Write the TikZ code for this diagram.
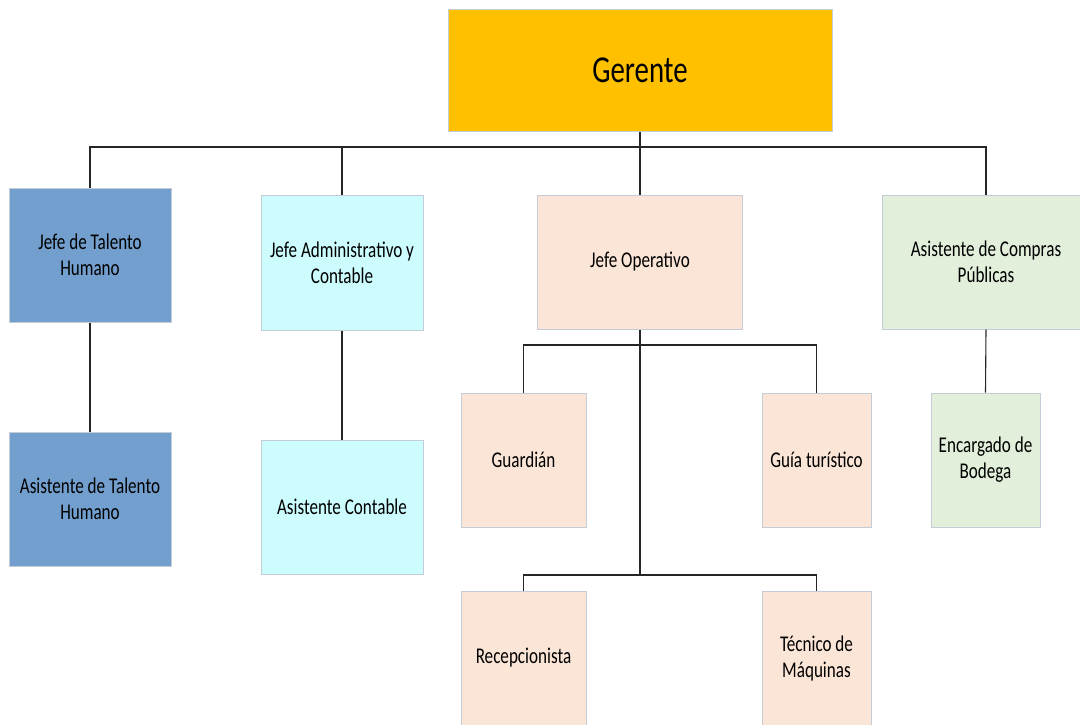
\documentclass[tikz,border=0pt]{standalone}
\usepackage{fontspec}
\setmainfont{Carlito}
\newfontfamily\boxfont[FakeStretch=0.76]{Carlito}
\usepackage{xcolor}
\usepackage{tikz}
\usetikzlibrary{positioning,calc}
\definecolor{Gold}{RGB}{255,192,0}
\definecolor{SteelBlue}{RGB}{115,159,206}
\definecolor{PaleCyan}{RGB}{204,252,253}
\definecolor{Peach}{RGB}{251,229,214}
\definecolor{PaleGreen}{RGB}{226,239,218}
\definecolor{EdgeGray}{RGB}{196,204,214}

\begin{document}
\begin{tikzpicture}[x=1pt, y=-1pt,
		box/.style={draw=EdgeGray, line width=1pt, align=center, inner sep=2pt,
			font=\boxfont\fontsize{22.5}{26}\selectfont},
		link/.style={draw=black!85, line width=1.1pt}]
		\useasboundingbox (0,0) rectangle (1080,724);
		\clip (0,0) rectangle (1080,724);
		
		% top level
		\node[box, fill=Gold, minimum width=384, minimum height=122,
			font=\boxfont\fontsize{38}{44}\selectfont] (ger) at (640,70) {Gerente};
		
		% second level
		\node[box, fill=SteelBlue, minimum width=162, minimum height=134] (jth) at (90,255) {Jefe de Talento\\Humano};
		\node[box, fill=PaleCyan, minimum width=162, minimum height=135] (jac) at (342,262.5) {Jefe Administrativo y\\Contable};
		\node[box, fill=Peach, minimum width=205, minimum height=134] (jop) at (640,262) {Jefe Operativo};
		\node[box, fill=PaleGreen, minimum width=208, minimum height=134] (acp) at (986,262) {Asistente de Compras\\Públicas};
		
		% third level
		\node[box, fill=SteelBlue, minimum width=162, minimum height=134] (ath) at (90,499) {Asistente de Talento\\Humano};
		\node[box, fill=PaleCyan, minimum width=162, minimum height=134] (aco) at (342,507) {Asistente Contable};
		\node[box, fill=Peach, minimum width=125, minimum height=134] (gua) at (523.5,460) {Guardián};
		\node[box, fill=Peach, minimum width=109, minimum height=134] (gui) at (816.5,460) {Guía turístico};
		\node[box, fill=PaleGreen, minimum width=109, minimum height=134] (enc) at (985.5,460) {Encargado de\\Bodega};
		\node[box, fill=Peach, minimum width=125, minimum height=134] (rec) at (523.5,658) {Recepcionista};
		\node[box, fill=Peach, minimum width=109, minimum height=134] (tec) at (816.5,658) {Técnico de\\Máquinas};
		
		\coordinate (bus) at (640,147);
		\coordinate (op1) at (640,345);
		\coordinate (op2) at (640,575);
		
		% connectors
		\draw[link] (ger.south) -- (bus);
		\draw[link] (jth.north) |- (bus) -| (acp.north);
		\draw[link] (jac.north) |- (bus);
		\draw[link] (jop.north) -- (bus);
		\draw[link] (jth.south) -- (ath.north);
		\draw[link] (jac.south) -- (aco.north);
		\draw[link] (acp.south) -- (enc.north);
		\draw[link] (jop.south) -- (op2);
		\draw[link] (gua.north) |- (op1) -| (gui.north);
		\draw[link] (rec.north) |- (op2) -| (tec.north);
	\end{tikzpicture}
\end{document}
